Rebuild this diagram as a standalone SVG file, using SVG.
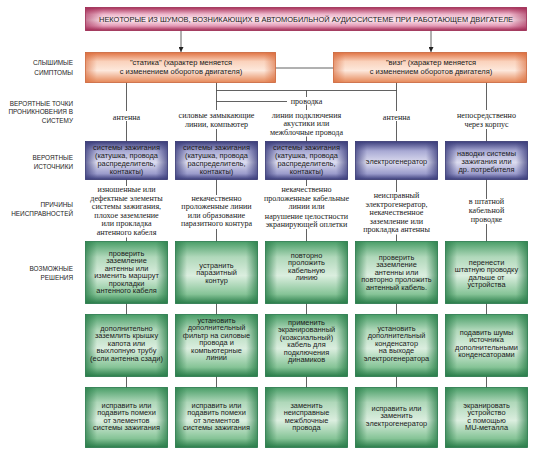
<svg xmlns="http://www.w3.org/2000/svg" width="534" height="451" viewBox="0 0 534 451">
<defs>
<style>
.lab{font-family:"Liberation Sans",Arial,sans-serif;font-size:6.4px;fill:#222;text-anchor:end}
.bx{font-family:"Liberation Sans",Arial,sans-serif;font-size:7.4px;fill:#1a1a1a;text-anchor:middle}
.sy{font-family:"Liberation Sans",Arial,sans-serif;font-size:7.5px;fill:#1a1a1a;text-anchor:middle}
.sr{font-family:"Liberation Serif","Times New Roman",serif;font-size:8.1px;fill:#1a1a1a;text-anchor:middle}
.ttl{font-family:"Liberation Sans",Arial,sans-serif;font-size:7.2px;fill:#1a1a1a;text-anchor:middle}
.conn line,.conn path{stroke:#3a3a3a;stroke-width:0.8;fill:none}
.t{fill:url(#gT);stroke:#9a2a50;stroke-width:0.8}
.s{fill:url(#gS);stroke:#c8643a;stroke-width:0.8}
.b{fill:url(#gB);stroke:#33356e;stroke-width:0.8}
.g{fill:url(#gG);stroke:#26754a;stroke-width:0.8}
.tE{fill:url(#eT);stroke:none}
.sE{fill:url(#eS);stroke:none}
.bE{fill:url(#eB);stroke:none}
.gE{fill:url(#eG);stroke:none}
</style>
<linearGradient id="gT" x1="0" y1="0" x2="0" y2="1">
<stop offset="0" stop-color="#a82e58"/><stop offset="0.3" stop-color="#eeb8cc"/><stop offset="0.55" stop-color="#fbe9f0"/><stop offset="0.8" stop-color="#e49ab6"/><stop offset="1" stop-color="#a02a54"/>
</linearGradient>
<linearGradient id="gS" x1="0" y1="0" x2="0" y2="1">
<stop offset="0" stop-color="#e07444"/><stop offset="0.3" stop-color="#fad2bc"/><stop offset="0.6" stop-color="#fde8dc"/><stop offset="1" stop-color="#e68858"/>
</linearGradient>
<linearGradient id="gB" x1="0" y1="0" x2="0" y2="1">
<stop offset="0" stop-color="#3c3e7c"/><stop offset="0.25" stop-color="#a9aad4"/><stop offset="0.55" stop-color="#dcdcef"/><stop offset="0.85" stop-color="#9a9bcb"/><stop offset="1" stop-color="#3c3e7c"/>
</linearGradient>
<linearGradient id="gG" x1="0" y1="0" x2="0" y2="1">
<stop offset="0" stop-color="#4a9e68"/><stop offset="0.25" stop-color="#b0d8ba"/><stop offset="0.55" stop-color="#dbeedf"/><stop offset="0.85" stop-color="#86c497"/><stop offset="1" stop-color="#2a7d4a"/>
</linearGradient>
<linearGradient id="eT" x1="0" y1="0" x2="1" y2="0">
<stop offset="0" stop-color="#a02a54" stop-opacity="0.6"/><stop offset="0.04" stop-color="#a02a54" stop-opacity="0"/><stop offset="0.96" stop-color="#a02a54" stop-opacity="0"/><stop offset="1" stop-color="#a02a54" stop-opacity="0.6"/>
</linearGradient>
<linearGradient id="eS" x1="0" y1="0" x2="1" y2="0">
<stop offset="0" stop-color="#d86a3a" stop-opacity="0.6"/><stop offset="0.06" stop-color="#d86a3a" stop-opacity="0"/><stop offset="0.94" stop-color="#d86a3a" stop-opacity="0"/><stop offset="1" stop-color="#d86a3a" stop-opacity="0.6"/>
</linearGradient>
<linearGradient id="eB" x1="0" y1="0" x2="1" y2="0">
<stop offset="0" stop-color="#3c3e7c" stop-opacity="0.75"/><stop offset="0.14" stop-color="#3c3e7c" stop-opacity="0"/><stop offset="0.86" stop-color="#3c3e7c" stop-opacity="0"/><stop offset="1" stop-color="#3c3e7c" stop-opacity="0.75"/>
</linearGradient>
<linearGradient id="eG" x1="0" y1="0" x2="1" y2="0">
<stop offset="0" stop-color="#2a7d4a" stop-opacity="0.75"/><stop offset="0.14" stop-color="#2a7d4a" stop-opacity="0"/><stop offset="0.86" stop-color="#2a7d4a" stop-opacity="0"/><stop offset="1" stop-color="#2a7d4a" stop-opacity="0.75"/>
</linearGradient>
<marker id="arr" viewBox="0 0 8 8" refX="8" refY="4" markerWidth="5" markerHeight="5" orient="auto" markerUnits="userSpaceOnUse">
<path d="M0,0 L8,4 L0,8 z" fill="#222"/>
</marker>
</defs>
<rect width="534" height="451" fill="#ffffff"/>

<g id="row-labels">
<text class="lab" x="73" y="64.5">СЛЫШИМЫЕ</text>
<text class="lab" x="73" y="75">СИМПТОМЫ</text>
<text class="lab" x="73" y="105.5">ВЕРОЯТНЫЕ ТОЧКИ</text>
<text class="lab" x="73" y="114">ПРОНИКНОВЕНИЯ В</text>
<text class="lab" x="73" y="122.5">СИСТЕМУ</text>
<text class="lab" x="73" y="160">ВЕРОЯТНЫЕ</text>
<text class="lab" x="73" y="169">ИСТОЧНИКИ</text>
<text class="lab" x="73" y="206.5">ПРИЧИНЫ</text>
<text class="lab" x="73" y="216">НЕИСПРАВНОСТЕЙ</text>
<text class="lab" x="73" y="270.5">ВОЗМОЖНЫЕ</text>
<text class="lab" x="73" y="280">РЕШЕНИЯ</text>
</g>

<g class="conn" id="connectors">
<line x1="181" y1="30.5" x2="181" y2="52" marker-end="url(#arr)"/>
<line x1="431" y1="30.5" x2="431" y2="52" marker-end="url(#arr)"/>
<line x1="275.5" y1="68" x2="333.5" y2="68"/>
<line x1="126.5" y1="82.5" x2="126.5" y2="111"/>
<line x1="216.5" y1="82.5" x2="216.5" y2="110"/>
<line x1="396.5" y1="82.5" x2="396.5" y2="111"/>
<line x1="486.5" y1="82.5" x2="486.5" y2="110"/>
<line x1="216.5" y1="90.5" x2="396.5" y2="90.5"/>
<line x1="216.5" y1="101.5" x2="287" y2="101.5"/>
<line x1="306.5" y1="90.5" x2="306.5" y2="97"/>
<line x1="306.5" y1="104.5" x2="306.5" y2="110"/>
<line x1="126.5" y1="121" x2="126.5" y2="141.5"/>
<line x1="216.5" y1="129" x2="216.5" y2="141.5"/>
<line x1="306.5" y1="136.5" x2="306.5" y2="141.5"/>
<line x1="396.5" y1="121" x2="396.5" y2="141.5"/>
<line x1="486.5" y1="129" x2="486.5" y2="141.5"/>
<line x1="126.5" y1="179.5" x2="126.5" y2="186"/>
<line x1="216.5" y1="179.5" x2="216.5" y2="195"/>
<line x1="306.5" y1="179.5" x2="306.5" y2="186"/>
<line x1="396.5" y1="179.5" x2="396.5" y2="192"/>
<line x1="486.5" y1="179.5" x2="486.5" y2="199"/>
<line x1="126.5" y1="237.5" x2="126.5" y2="241.5"/>
<line x1="216.5" y1="229" x2="216.5" y2="241.5"/>
<line x1="306.5" y1="229" x2="306.5" y2="241.5"/>
<line x1="396.5" y1="234.5" x2="396.5" y2="241.5"/>
<line x1="486.5" y1="224" x2="486.5" y2="241.5"/>
<line x1="126.5" y1="303.5" x2="126.5" y2="314.5"/>
<line x1="216.5" y1="303.5" x2="216.5" y2="314.5"/>
<line x1="306.5" y1="303.5" x2="306.5" y2="314.5"/>
<line x1="396.5" y1="303.5" x2="396.5" y2="314.5"/>
<line x1="486.5" y1="303.5" x2="486.5" y2="314.5"/>
<line x1="126.5" y1="376.5" x2="126.5" y2="387.5"/>
<line x1="216.5" y1="376.5" x2="216.5" y2="387.5"/>
<line x1="306.5" y1="376.5" x2="306.5" y2="387.5"/>
<line x1="396.5" y1="376.5" x2="396.5" y2="387.5"/>
<line x1="486.5" y1="376.5" x2="486.5" y2="387.5"/>
</g>

<g id="title">
<rect class="t" x="85.5" y="7.5" width="441" height="23"/>
<rect class="tE" x="85.5" y="7.5" width="441" height="23"/>
<text class="ttl" x="306" y="21.5" textLength="414" lengthAdjust="spacingAndGlyphs">НЕКОТОРЫЕ ИЗ ШУМОВ, ВОЗНИКАЮЩИХ В АВТОМОБИЛЬНОЙ АУДИОСИСТЕМЕ ПРИ РАБОТАЮЩЕМ ДВИГАТЕЛЕ</text>
</g>

<g id="sym-static">
<rect class="s" x="85.5" y="52.5" width="190" height="30"/>
<rect class="sE" x="85.5" y="52.5" width="190" height="30"/>
<text class="sy"><tspan x="181" y="65">"статика" (характер меняется</tspan><tspan x="181" y="74">с изменением оборотов двигателя)</tspan></text>
</g>
<g id="sym-squeal">
<rect class="s" x="333.5" y="52.5" width="193" height="30"/>
<rect class="sE" x="333.5" y="52.5" width="193" height="30"/>
<text class="sy"><tspan x="431" y="65">"визг" (характер меняется</tspan><tspan x="431" y="74">с изменением оборотов двигателя)</tspan></text>
</g>

<g id="entry-1"><text class="sr"><tspan x="126.5" y="119.5">антенна</tspan></text></g>
<g id="entry-2"><text class="sr"><tspan x="216.5" y="117.5">силовые замыкающие</tspan><tspan x="216.5" y="126.5">линии, компьютер</tspan></text></g>
<g id="entry-wiring"><text class="sr"><tspan x="306.5" y="103.5">проводка</tspan></text></g>
<g id="entry-3"><text class="sr"><tspan x="306.5" y="117.5">линии подключения</tspan><tspan x="306.5" y="126">акустики или</tspan><tspan x="306.5" y="134.5">межблочные провода</tspan></text></g>
<g id="entry-4"><text class="sr"><tspan x="396.5" y="119.5">антенна</tspan></text></g>
<g id="entry-5"><text class="sr"><tspan x="486.5" y="117.5">непосредственно</tspan><tspan x="486.5" y="126.5">через корпус</tspan></text></g>

<g id="src-1">
<rect class="b" x="85.5" y="141.5" width="82" height="38"/><rect class="bE" x="85.5" y="141.5" width="82" height="38"/>
<text class="bx"><tspan x="126.5" y="149.5">системы зажигания</tspan><tspan x="126.5" y="157.5">(катушка, провода</tspan><tspan x="126.5" y="165.5">распределитель,</tspan><tspan x="126.5" y="173.5">контакты)</tspan></text>
</g>
<g id="src-2">
<rect class="b" x="175.5" y="141.5" width="82" height="38"/><rect class="bE" x="175.5" y="141.5" width="82" height="38"/>
<text class="bx"><tspan x="216.5" y="149.5">системы зажигания</tspan><tspan x="216.5" y="157.5">(катушка, провода</tspan><tspan x="216.5" y="165.5">распределитель,</tspan><tspan x="216.5" y="173.5">контакты)</tspan></text>
</g>
<g id="src-3">
<rect class="b" x="265.5" y="141.5" width="82" height="38"/><rect class="bE" x="265.5" y="141.5" width="82" height="38"/>
<text class="bx"><tspan x="306.5" y="149.5">системы зажигания</tspan><tspan x="306.5" y="157.5">(катушка, провода</tspan><tspan x="306.5" y="165.5">распределитель,</tspan><tspan x="306.5" y="173.5">контакты)</tspan></text>
</g>
<g id="src-4">
<rect class="b" x="355.5" y="141.5" width="82" height="38"/><rect class="bE" x="355.5" y="141.5" width="82" height="38"/>
<text class="bx"><tspan x="396.5" y="163.5">электрогенератор</tspan></text>
</g>
<g id="src-5">
<rect class="b" x="445.5" y="141.5" width="82" height="38"/><rect class="bE" x="445.5" y="141.5" width="82" height="38"/>
<text class="bx"><tspan x="486.5" y="155.5">наводки системы</tspan><tspan x="486.5" y="163.5">зажигания или</tspan><tspan x="486.5" y="171.5">др. потребителя</tspan></text>
</g>

<g id="cause-1"><text class="sr"><tspan x="126.5" y="192">изношенные или</tspan><tspan x="126.5" y="200.6">дефектные элементы</tspan><tspan x="126.5" y="209.2">системы зажигания,</tspan><tspan x="126.5" y="217.8">плохое заземление</tspan><tspan x="126.5" y="226.4">или прокладка</tspan><tspan x="126.5" y="235">антенного кабеля</tspan></text></g>
<g id="cause-2"><text class="sr"><tspan x="216.5" y="200.6">некачественно</tspan><tspan x="216.5" y="209.2">проложенные линии</tspan><tspan x="216.5" y="217.8">или образование</tspan><tspan x="216.5" y="226.4">паразитного контура</tspan></text></g>
<g id="cause-3"><text class="sr"><tspan x="306.5" y="192">некачественно</tspan><tspan x="306.5" y="200.6">проложенные кабельные</tspan><tspan x="306.5" y="209.2">линии или</tspan><tspan x="306.5" y="218.5">нарушение целостности</tspan><tspan x="306.5" y="227.1">экранирующей оплетки</tspan></text></g>
<g id="cause-4"><text class="sr"><tspan x="396.5" y="198">неисправный</tspan><tspan x="396.5" y="206.6">электрогенератор,</tspan><tspan x="396.5" y="215.2">некачественное</tspan><tspan x="396.5" y="223.8">заземление или</tspan><tspan x="396.5" y="232.4">прокладка антенны</tspan></text></g>
<g id="cause-5"><text class="sr"><tspan x="486.5" y="204.4">в штатной</tspan><tspan x="486.5" y="213">кабельной</tspan><tspan x="486.5" y="221.6">проводке</tspan></text></g>

<g id="fix-1-1">
<rect class="g" x="85.5" y="241.5" width="82" height="62"/><rect class="gE" x="85.5" y="241.5" width="82" height="62"/>
<text class="bx"><tspan x="126.5" y="255.5">проверить</tspan><tspan x="126.5" y="263">заземление</tspan><tspan x="126.5" y="270.5">антенны или</tspan><tspan x="126.5" y="278">изменить маршрут</tspan><tspan x="126.5" y="285.5">прокладки</tspan><tspan x="126.5" y="293">антенного кабеля</tspan></text>
</g>
<g id="fix-1-2">
<rect class="g" x="175.5" y="241.5" width="82" height="62"/><rect class="gE" x="175.5" y="241.5" width="82" height="62"/>
<text class="bx"><tspan x="216.5" y="267.5">устранить</tspan><tspan x="216.5" y="275">паразитный</tspan><tspan x="216.5" y="282.5">контур</tspan></text>
</g>
<g id="fix-1-3">
<rect class="g" x="265.5" y="241.5" width="82" height="62"/><rect class="gE" x="265.5" y="241.5" width="82" height="62"/>
<text class="bx"><tspan x="306.5" y="257.5">повторно</tspan><tspan x="306.5" y="265">проложить</tspan><tspan x="306.5" y="272.5">кабельную</tspan><tspan x="306.5" y="280">линию</tspan></text>
</g>
<g id="fix-1-4">
<rect class="g" x="355.5" y="241.5" width="82" height="62"/><rect class="gE" x="355.5" y="241.5" width="82" height="62"/>
<text class="bx"><tspan x="396.5" y="259.5">проверить</tspan><tspan x="396.5" y="267">заземление</tspan><tspan x="396.5" y="274.5">антенны или</tspan><tspan x="396.5" y="282">повторно проложить</tspan><tspan x="396.5" y="289.5">антенный кабель.</tspan></text>
</g>
<g id="fix-1-5">
<rect class="g" x="445.5" y="241.5" width="82" height="62"/><rect class="gE" x="445.5" y="241.5" width="82" height="62"/>
<text class="bx"><tspan x="486.5" y="264.5">перенести</tspan><tspan x="486.5" y="272">штатную проводку</tspan><tspan x="486.5" y="279.5">дальше от</tspan><tspan x="486.5" y="287">устройства</tspan></text>
</g>

<g id="fix-2-1">
<rect class="g" x="85.5" y="314.5" width="82" height="62"/><rect class="gE" x="85.5" y="314.5" width="82" height="62"/>
<text class="bx"><tspan x="126.5" y="330.5">дополнительно</tspan><tspan x="126.5" y="338">заземлить крышку</tspan><tspan x="126.5" y="345.5">капота или</tspan><tspan x="126.5" y="353">выхлопную трубу</tspan><tspan x="126.5" y="360.5">(если антенна сзади)</tspan></text>
</g>
<g id="fix-2-2">
<rect class="g" x="175.5" y="314.5" width="82" height="62"/><rect class="gE" x="175.5" y="314.5" width="82" height="62"/>
<text class="bx"><tspan x="216.5" y="322.5">установить</tspan><tspan x="216.5" y="330">дополнительный</tspan><tspan x="216.5" y="337.5">фильтр на силовые</tspan><tspan x="216.5" y="345">провода и</tspan><tspan x="216.5" y="352.5">компьютерные</tspan><tspan x="216.5" y="360">линии</tspan></text>
</g>
<g id="fix-2-3">
<rect class="g" x="265.5" y="314.5" width="82" height="62"/><rect class="gE" x="265.5" y="314.5" width="82" height="62"/>
<text class="bx"><tspan x="306.5" y="324.5">применить</tspan><tspan x="306.5" y="332">экранированный</tspan><tspan x="306.5" y="339.5">(коаксиальный)</tspan><tspan x="306.5" y="347">кабель для</tspan><tspan x="306.5" y="354.5">подключения</tspan><tspan x="306.5" y="362">динамиков</tspan></text>
</g>
<g id="fix-2-4">
<rect class="g" x="355.5" y="314.5" width="82" height="62"/><rect class="gE" x="355.5" y="314.5" width="82" height="62"/>
<text class="bx"><tspan x="396.5" y="330.5">установить</tspan><tspan x="396.5" y="338">дополнительный</tspan><tspan x="396.5" y="345.5">конденсатор</tspan><tspan x="396.5" y="353">на выходе</tspan><tspan x="396.5" y="360.5">электрогенератора</tspan></text>
</g>
<g id="fix-2-5">
<rect class="g" x="445.5" y="314.5" width="82" height="62"/><rect class="gE" x="445.5" y="314.5" width="82" height="62"/>
<text class="bx"><tspan x="486.5" y="334.5">подавить шумы</tspan><tspan x="486.5" y="342">источника</tspan><tspan x="486.5" y="349.5">дополнительными</tspan><tspan x="486.5" y="357">конденсаторами</tspan></text>
</g>

<g id="fix-3-1">
<rect class="g" x="85.5" y="387.5" width="82" height="60"/><rect class="gE" x="85.5" y="387.5" width="82" height="60"/>
<text class="bx"><tspan x="126.5" y="407.5">исправить или</tspan><tspan x="126.5" y="415">подавить помехи</tspan><tspan x="126.5" y="422.5">от элементов</tspan><tspan x="126.5" y="430">системы зажигания</tspan></text>
</g>
<g id="fix-3-2">
<rect class="g" x="175.5" y="387.5" width="82" height="60"/><rect class="gE" x="175.5" y="387.5" width="82" height="60"/>
<text class="bx"><tspan x="216.5" y="407.5">исправить или</tspan><tspan x="216.5" y="415">подавить помехи</tspan><tspan x="216.5" y="422.5">от элементов</tspan><tspan x="216.5" y="430">системы зажигания</tspan></text>
</g>
<g id="fix-3-3">
<rect class="g" x="265.5" y="387.5" width="82" height="60"/><rect class="gE" x="265.5" y="387.5" width="82" height="60"/>
<text class="bx"><tspan x="306.5" y="407.5">заменить</tspan><tspan x="306.5" y="415">неисправные</tspan><tspan x="306.5" y="422.5">межблочные</tspan><tspan x="306.5" y="430">провода</tspan></text>
</g>
<g id="fix-3-4">
<rect class="g" x="355.5" y="387.5" width="82" height="60"/><rect class="gE" x="355.5" y="387.5" width="82" height="60"/>
<text class="bx"><tspan x="396.5" y="410.5">исправить или</tspan><tspan x="396.5" y="418">заменить</tspan><tspan x="396.5" y="425.5">электрогенератор</tspan></text>
</g>
<g id="fix-3-5">
<rect class="g" x="445.5" y="387.5" width="82" height="60"/><rect class="gE" x="445.5" y="387.5" width="82" height="60"/>
<text class="bx"><tspan x="486.5" y="407.5">экранировать</tspan><tspan x="486.5" y="415">устройство</tspan><tspan x="486.5" y="422.5">с помощью</tspan><tspan x="486.5" y="430">MU-металла</tspan></text>
</g>
</svg>
